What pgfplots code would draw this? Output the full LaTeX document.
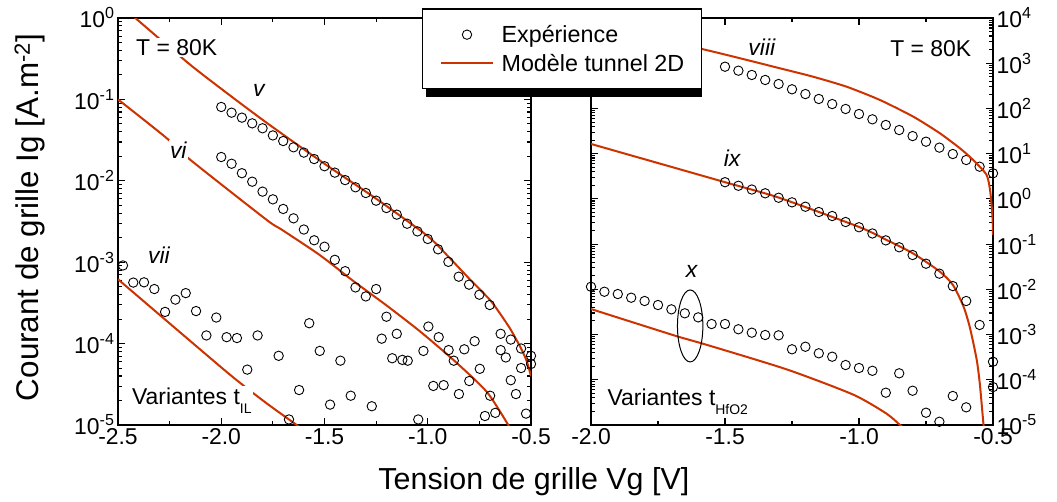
\documentclass[border=0pt]{standalone}
\usepackage{fontspec}
\setmainfont{Liberation Sans}
\usepackage{pgfplots}
\pgfplotsset{compat=1.18}
\definecolor{modelred}{RGB}{204,51,0}
\pgfplotsset{
  every axis/.append style={
    scale only axis, height=407bp,
    axis line style={line width=1.5bp},
    tick style={line width=1.1bp, black},
    major tick length=7bp, minor tick length=4bp,
    tick align=inside, minor x tick num=1,
    tick label style={font=\fontsize{23}{27}\selectfont},
  },
  mymodel/.style={modelred, line width=2bp, smooth, tension=0.4},
  myexpe/.style={only marks, mark=o, mark size=4.7bp, black, mark options={line width=0.9bp}},
}
\tikzset{mylab/.style={font=\fontsize{23}{27}\selectfont, fill=white, inner sep=1.5bp},
  myital/.style={font=\fontsize{23}{27}\selectfont\itshape, fill=white, inner sep=1.5bp}}
\begin{document}
\begin{tikzpicture}
\path (-118bp,-77bp) rectangle (939bp,425bp);
% ---------------- left panel ----------------
\begin{axis}[ymode=log, at={(0bp,0bp)}, anchor=south west, width=413bp,
  xmin=-2.5, xmax=-0.5, ymin=1e-5, ymax=1,
  xtick={-2.5,-2,-1.5,-1,-0.5}, xticklabels={-2.5,-2.0,-1.5,-1.0,-0.5},
  ytick={1e-5,1e-4,1e-3,1e-2,1e-1,1},
  yticklabels={10\textsuperscript{-5},10\textsuperscript{-4},10\textsuperscript{-3},10\textsuperscript{-2},10\textsuperscript{-1},10\textsuperscript{0}},
  ylabel={Courant de grille Ig [A.m\textsuperscript{-2}]},
  ylabel style={font=\fontsize{31.5}{37}\selectfont, at={(axis description cs:-0.213,0.51)}, anchor=center},
  xlabel={Tension de grille Vg [V]},
  xlabel style={font=\fontsize{30.5}{36}\selectfont, at={(axis description cs:1.007,-0.14)}, anchor=center},
]
% model lines
\addplot[mymodel] coordinates {(-2.42,1.02) (-2.135,0.248) (-1.8,5.62e-2) (-1.5,1.62e-2) (-1.25,6.03e-3) (-1.0,2.09e-3) (-0.9,1.17e-3) (-0.8,6.31e-4) (-0.7,3.47e-4) (-0.65,2.34e-4) (-0.6,1.51e-4) (-0.55,8.91e-5) (-0.52,6.03e-5) (-0.5,3.98e-5)};
\addplot[mymodel] coordinates {(-2.5,0.1) (-2.272,3.47e-2) (-2.151,1.82e-2) (-1.78,3.31e-3) (-1.707,2.51e-3) (-1.524,1.23e-3) (-1.361,5.89e-4) (-1.2,2.95e-4) (-1.037,1.41e-4) (-0.876,6.31e-5) (-0.715,2.57e-5) (-0.61,1e-5) (-0.59,7.9e-6)};
\addplot[mymodel] coordinates {(-2.5,6.17e-4) (-2.2,1.38e-4) (-1.949,3.98e-5) (-1.788,1.91e-5) (-1.635,1e-5) (-1.6,8.5e-6)};
% experiment v
\addplot[myexpe] coordinates {(-2.0,8.07e-2) (-1.95,6.87e-2) (-1.9,5.97e-2) (-1.85,5.08e-2) (-1.8,4.42e-2) (-1.75,3.61e-2) (-1.7,3.08e-2) (-1.65,2.58e-2) (-1.6,2.22e-2) (-1.55,1.85e-2) (-1.5,1.51e-2) (-1.45,1.26e-2) (-1.4,1.02e-2) (-1.35,8.32e-3) (-1.3,7.08e-3) (-1.25,5.70e-3) (-1.2,4.63e-3) (-1.15,3.84e-3) (-1.1,2.97e-3) (-1.05,2.39e-3) (-1.0,1.93e-3) (-0.95,1.44e-3) (-0.9,1.01e-3) (-0.85,6.64e-4) (-0.8,5.30e-4) (-0.75,3.99e-4) (-0.7,2.98e-4)};
% experiment vi
\addplot[myexpe] coordinates {(-2.0,1.96e-2) (-1.95,1.62e-2) (-1.9,1.24e-2) (-1.85,9.75e-3) (-1.8,7.36e-3) (-1.75,5.92e-3) (-1.7,4.51e-3) (-1.65,3.46e-3) (-1.6,2.52e-3) (-1.55,1.86e-3) (-1.5,1.55e-3) (-1.45,1.07e-3) (-1.4,7.76e-4) (-1.35,4.90e-4) (-1.3,3.80e-4) (-1.25,4.68e-4) (-1.2,2.14e-4) (-1.15,1.32e-4)};
% experiment vii and noisy tails
\addplot[myexpe] coordinates {(-2.476,9.12e-4) (-2.426,5.62e-4) (-2.374,5.66e-4) (-2.324,4.68e-4) (-2.272,2.45e-4) (-2.222,3.47e-4) (-2.172,4.17e-4) (-2.122,2.51e-4) (-2.072,1.26e-4) (-2.024,2.09e-4) (-1.974,1.20e-4) (-1.924,1.17e-4) (-1.874,4.79e-5) (-1.824,1.26e-4) (-1.722,7.08e-5) (-1.672,1.17e-5) (-1.623,2.69e-5) (-1.574,1.78e-4) (-1.523,8.13e-5) (-1.473,1.78e-5) (-1.423,6.17e-5) (-1.373,2.29e-5) (-1.271,1.70e-5) (-1.223,1.15e-4) (-1.172,6.61e-5) (-1.123,6.31e-5) (-1.097,6.17e-5) (-1.046,1.17e-5) (-1.021,8.13e-5) (-0.997,1.62e-4) (-0.973,3.02e-5) (-0.947,1.20e-4) (-0.923,3.09e-5) (-0.899,8.32e-5) (-0.874,6.17e-5) (-0.849,2.40e-5) (-0.823,8.51e-5) (-0.799,3.47e-5) (-0.773,1.07e-4) (-0.748,4.90e-5) (-0.723,1.29e-5) (-0.698,2.29e-5) (-0.673,1.41e-5) (-0.647,1.32e-4) (-0.647,8.32e-5) (-0.622,6.76e-5) (-0.598,1.12e-4) (-0.598,3.55e-5) (-0.573,2.40e-5) (-0.548,8.71e-5) (-0.548,5.01e-5) (-0.524,1.38e-5) (-0.5,7.08e-5) (-0.5,5.62e-5)};
\node[mylab, anchor=base west] at (rel axis cs:0.040,0.909) {T = 80K};
\node[myital] at (rel axis cs:0.341,0.821) {v};
\node[myital] at (rel axis cs:0.146,0.676) {vi};
\node[myital] at (rel axis cs:0.099,0.418) {vii};
\node[mylab, anchor=base west] at (rel axis cs:0.030,0.0516) {Variantes t\raisebox{-9bp}{\fontsize{14}{16}\selectfont IL}};
\end{axis}
% ---------------- right panel ----------------
\begin{axis}[ymode=log, at={(473bp,0bp)}, anchor=south west, width=402bp,
  clip mode=individual,
  xmin=-2, xmax=-0.5, ymin=1e-5, ymax=1e4,
  xtick={-2,-1.5,-1,-0.5}, xticklabels={-2.0,-1.5,-1.0,-0.5},
  ytick={1e-5,1e-4,1e-3,1e-2,1e-1,1,1e1,1e2,1e3,1e4},
  yticklabels={10\textsuperscript{-5},10\textsuperscript{-4},10\textsuperscript{-3},10\textsuperscript{-2},10\textsuperscript{-1},10\textsuperscript{0},10\textsuperscript{1},10\textsuperscript{2},10\textsuperscript{3},10\textsuperscript{4}},
  yticklabel pos=right,
  legend style={at={(axis description cs:-0.4204,1.0238)}, anchor=north west, draw=black, line width=1.2bp, fill=white,
    font=\fontsize{23.4}{28}\selectfont, inner xsep=17bp, inner ysep=17.5bp, row sep=11.9bp, column sep=7.3bp,
    nodes={inner sep=0bp, text height=16.5bp, text depth=0bp}, cells={anchor=west}},
  legend image code/.code={\draw[mark repeat=2,mark phase=2,#1] plot coordinates {(0bp,0bp) (26.4bp,0bp) (52.7bp,0bp)};},
]
\addplot[myexpe] coordinates {(-1.5,838) (-1.45,684) (-1.4,550) (-1.35,426) (-1.3,347) (-1.25,265) (-1.2,208) (-1.15,162) (-1.1,125) (-1.05,97.3) (-1.0,75.3) (-0.95,57.5) (-0.9,43.1) (-0.85,33.3) (-0.8,24.5) (-0.75,18.4) (-0.7,13.6) (-0.65,9.82) (-0.6,7.24) (-0.55,5.15) (-0.5,3.68)};
\addlegendentry{Expérience}
\addplot[mymodel] coordinates {(-2.0,7080) (-1.59,2090) (-1.295,773) (-1.170,501) (-1.046,302) (-0.922,154) (-0.797,65.6) (-0.698,28.2) (-0.623,13.1) (-0.574,7.24) (-0.524,3.39) (-0.51,1.41) (-0.502,0.398) (-0.5,0.16)};
\addlegendentry{Modèle tunnel 2D}
\addplot[mymodel, forget plot] coordinates {(-2.0,16.4) (-1.5,2.34) (-1.3,1.07) (-1.0,0.240) (-0.9,0.126) (-0.8,6.31e-2) (-0.7,2.51e-2) (-0.65,1.26e-2) (-0.61,4.17e-3) (-0.586,1.41e-3) (-0.561,2.82e-4) (-0.549,7.94e-5) (-0.536,1.10e-5) (-0.533,7.9e-6)};
\addplot[mymodel, forget plot] coordinates {(-2.0,3.67e-3) (-1.674,8.95e-4) (-1.587,6.40e-4) (-1.27,1.70e-4) (-1.021,4.68e-5) (-0.897,1.78e-5) (-0.847,1.0e-5) (-0.83,8.5e-6)};
\addplot[myexpe, forget plot] coordinates {(-1.5,2.34) (-1.45,1.95) (-1.4,1.61) (-1.35,1.33) (-1.3,1.06) (-1.25,0.839) (-1.2,0.671) (-1.15,0.513) (-1.1,0.418) (-1.05,0.308) (-1.0,0.236) (-0.95,0.172) (-0.9,0.121) (-0.85,8.51e-2) (-0.8,5.74e-2) (-0.75,3.69e-2) (-0.7,2.22e-2) (-0.65,1.18e-2) (-0.6,5.52e-3) (-0.55,1.63e-3) (-0.5,2.51e-4)};
\addplot[myexpe, forget plot] coordinates {(-2.0,1.14e-2) (-1.95,8.85e-3) (-1.9,7.87e-3) (-1.85,6.53e-3) (-1.8,5.52e-3) (-1.75,4.50e-3) (-1.7,3.61e-3) (-1.65,2.95e-3) (-1.6,2.40e-3) (-1.55,1.71e-3) (-1.5,1.71e-3) (-1.45,1.31e-3) (-1.4,1.10e-3) (-1.35,9.77e-4) (-1.3,9.62e-4) (-1.25,4.72e-4) (-1.2,5.38e-4) (-1.15,3.85e-4) (-1.1,3.24e-4) (-1.05,2.12e-4) (-1.0,1.82e-4) (-0.95,1.58e-4) (-0.9,5.18e-5) (-0.85,1.39e-4) (-0.8,5.73e-5) (-0.75,1.87e-5) (-0.7,1.18e-5) (-0.65,4.38e-5) (-0.6,2.46e-5) (-0.5,6.9e-5)};
\draw[line width=1bp] (axis cs:-1.63,1.55e-3) ellipse [x radius=12.7bp, y radius=36bp];
\node[myital, anchor=base] at (rel axis cs:0.425,0.909) {viii};
\node[mylab, anchor=base east] at (rel axis cs:0.950,0.906) {T = 80K};
\node[myital] at (rel axis cs:0.351,0.656) {ix};
\node[myital] at (rel axis cs:0.250,0.377) {x};
\node[mylab, anchor=base west] at (rel axis cs:0.037,0.049) {Variantes t\raisebox{-9bp}{\fontsize{14}{16}\selectfont HfO2}};
% legend drop shadow
\fill[black] (axis description cs:-0.4104,0.8059) rectangle (axis description cs:0.2761,1.0074);
\end{axis}
\end{tikzpicture}
\end{document}
